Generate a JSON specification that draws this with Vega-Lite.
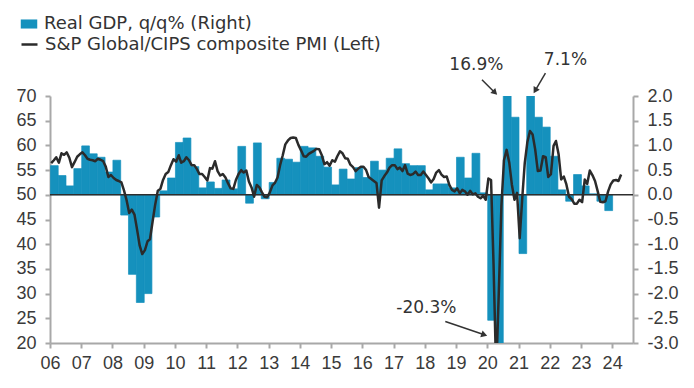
{
  "$schema": "https://vega.github.io/schema/vega-lite/v6.json",
  "width": 583,
  "height": 247,
  "autosize": {"type": "none"},
  "padding": {"left": 50, "top": 96, "right": 61, "bottom": 45},
  "background": "white",
  "config": {
    "view": {"stroke": null},
    "font": "DejaVu Sans",
    "bar": {"binSpacing": 0},
    "axis": {
      "grid": false,
      "labelFont": "Liberation Sans",
      "labelFontSize": 18,
      "labelColor": "#3a3a3a",
      "domainColor": "#a8a8a8",
      "domainWidth": 2,
      "tickColor": "#a8a8a8",
      "tickWidth": 2,
      "tickSize": 5,
      "labelOverlap": false
    },
    "axisX": {"tickCount": 19, "labelPadding": 6, "labelFlush": false},
    "axisY": {"tickCount": 11, "labelPadding": 9}
  },
  "datasets": {
    "gdp": [
      {"q": "2006-02-15", "gdp": 0.59}, {"q": "2006-05-15", "gdp": 0.39}, {"q": "2006-08-15", "gdp": 0.18}, {"q": "2006-11-15", "gdp": 0.53},
      {"q": "2007-02-15", "gdp": 0.99}, {"q": "2007-05-15", "gdp": 0.83}, {"q": "2007-08-15", "gdp": 0.76}, {"q": "2007-11-15", "gdp": 0.46},
      {"q": "2008-02-15", "gdp": 0.70}, {"q": "2008-05-15", "gdp": -0.41}, {"q": "2008-08-15", "gdp": -1.61}, {"q": "2008-11-15", "gdp": -2.18},
      {"q": "2009-02-15", "gdp": -2.0}, {"q": "2009-05-15", "gdp": -0.45}, {"q": "2009-08-15", "gdp": 0.08}, {"q": "2009-11-15", "gdp": 0.34},
      {"q": "2010-02-15", "gdp": 1.06}, {"q": "2010-05-15", "gdp": 1.15}, {"q": "2010-08-15", "gdp": 0.57}, {"q": "2010-11-15", "gdp": 0.14},
      {"q": "2011-02-15", "gdp": 0.26}, {"q": "2011-05-15", "gdp": 0.13}, {"q": "2011-08-15", "gdp": 0.30}, {"q": "2011-11-15", "gdp": 0.12},
      {"q": "2012-02-15", "gdp": 0.98}, {"q": "2012-05-15", "gdp": -0.17}, {"q": "2012-08-15", "gdp": 1.05}, {"q": "2012-11-15", "gdp": -0.08},
      {"q": "2013-02-15", "gdp": 0.25}, {"q": "2013-05-15", "gdp": 0.74}, {"q": "2013-08-15", "gdp": 0.72}, {"q": "2013-11-15", "gdp": 0.66},
      {"q": "2014-02-15", "gdp": 0.98}, {"q": "2014-05-15", "gdp": 0.95}, {"q": "2014-08-15", "gdp": 0.78}, {"q": "2014-11-15", "gdp": 0.56},
      {"q": "2015-02-15", "gdp": 0.20}, {"q": "2015-05-15", "gdp": 0.52}, {"q": "2015-08-15", "gdp": 0.32}, {"q": "2015-11-15", "gdp": 0.55},
      {"q": "2016-02-15", "gdp": 0.35}, {"q": "2016-05-15", "gdp": 0.68}, {"q": "2016-08-15", "gdp": 0.50}, {"q": "2016-11-15", "gdp": 0.74},
      {"q": "2017-02-15", "gdp": 0.93}, {"q": "2017-05-15", "gdp": 0.63}, {"q": "2017-08-15", "gdp": 0.59}, {"q": "2017-11-15", "gdp": 0.59},
      {"q": "2018-02-15", "gdp": 0.10}, {"q": "2018-05-15", "gdp": 0.22}, {"q": "2018-08-15", "gdp": 0.22}, {"q": "2018-11-15", "gdp": 0.14},
      {"q": "2019-02-15", "gdp": 0.76}, {"q": "2019-05-15", "gdp": 0.34}, {"q": "2019-08-15", "gdp": 0.84}, {"q": "2019-11-15", "gdp": 0.04},
      {"q": "2020-02-15", "gdp": -2.54}, {"q": "2020-05-15", "gdp": -20.3}, {"q": "2020-08-15", "gdp": 16.9}, {"q": "2020-11-15", "gdp": 1.57},
      {"q": "2021-02-15", "gdp": -1.19}, {"q": "2021-05-15", "gdp": 7.1}, {"q": "2021-08-15", "gdp": 1.57}, {"q": "2021-11-15", "gdp": 1.37},
      {"q": "2022-02-15", "gdp": 0.78}, {"q": "2022-05-15", "gdp": 0.10}, {"q": "2022-08-15", "gdp": -0.13}, {"q": "2022-11-15", "gdp": 0.41},
      {"q": "2023-02-15", "gdp": 0.18}, {"q": "2023-05-15", "gdp": 0.02}, {"q": "2023-08-15", "gdp": -0.13}, {"q": "2023-11-15", "gdp": -0.32}
    ],
    "pmi": [
      {"m": "2006-01-15", "pmi": 56.4}, {"m": "2006-02-15", "pmi": 57.0}, {"m": "2006-03-15", "pmi": 57.6}, {"m": "2006-04-15", "pmi": 56.5}, {"m": "2006-05-15", "pmi": 58.4}, {"m": "2006-06-15", "pmi": 58.1}, {"m": "2006-07-15", "pmi": 58.6}, {"m": "2006-08-15", "pmi": 57.5}, {"m": "2006-09-15", "pmi": 55.6}, {"m": "2006-10-15", "pmi": 56.6}, {"m": "2006-11-15", "pmi": 57.7}, {"m": "2006-12-15", "pmi": 58.2},
      {"m": "2007-01-15", "pmi": 58.6}, {"m": "2007-02-15", "pmi": 58.0}, {"m": "2007-03-15", "pmi": 57.3}, {"m": "2007-04-15", "pmi": 57.1}, {"m": "2007-05-15", "pmi": 57.0}, {"m": "2007-06-15", "pmi": 56.8}, {"m": "2007-07-15", "pmi": 57.3}, {"m": "2007-08-15", "pmi": 57.1}, {"m": "2007-09-15", "pmi": 56.8}, {"m": "2007-10-15", "pmi": 55.7}, {"m": "2007-11-15", "pmi": 53.6}, {"m": "2007-12-15", "pmi": 54.0},
      {"m": "2008-01-15", "pmi": 53.4}, {"m": "2008-02-15", "pmi": 53.0}, {"m": "2008-03-15", "pmi": 52.8}, {"m": "2008-04-15", "pmi": 52.5}, {"m": "2008-05-15", "pmi": 50.9}, {"m": "2008-06-15", "pmi": 48.9}, {"m": "2008-07-15", "pmi": 46.3}, {"m": "2008-08-15", "pmi": 47.0}, {"m": "2008-09-15", "pmi": 46.0}, {"m": "2008-10-15", "pmi": 43.0}, {"m": "2008-11-15", "pmi": 39.7}, {"m": "2008-12-15", "pmi": 38.0},
      {"m": "2009-01-15", "pmi": 38.8}, {"m": "2009-02-15", "pmi": 40.6}, {"m": "2009-03-15", "pmi": 41.0}, {"m": "2009-04-15", "pmi": 44.6}, {"m": "2009-05-15", "pmi": 48.0}, {"m": "2009-06-15", "pmi": 50.8}, {"m": "2009-07-15", "pmi": 51.2}, {"m": "2009-08-15", "pmi": 53.0}, {"m": "2009-09-15", "pmi": 54.2}, {"m": "2009-10-15", "pmi": 54.6}, {"m": "2009-11-15", "pmi": 56.0}, {"m": "2009-12-15", "pmi": 57.2},
      {"m": "2010-01-15", "pmi": 56.7}, {"m": "2010-02-15", "pmi": 58.0}, {"m": "2010-03-15", "pmi": 56.5}, {"m": "2010-04-15", "pmi": 56.8}, {"m": "2010-05-15", "pmi": 57.6}, {"m": "2010-06-15", "pmi": 57.0}, {"m": "2010-07-15", "pmi": 56.0}, {"m": "2010-08-15", "pmi": 56.0}, {"m": "2010-09-15", "pmi": 55.2}, {"m": "2010-10-15", "pmi": 54.2}, {"m": "2010-11-15", "pmi": 54.2}, {"m": "2010-12-15", "pmi": 53.6},
      {"m": "2011-01-15", "pmi": 52.9}, {"m": "2011-02-15", "pmi": 55.4}, {"m": "2011-03-15", "pmi": 55.3}, {"m": "2011-04-15", "pmi": 56.8}, {"m": "2011-05-15", "pmi": 54.8}, {"m": "2011-06-15", "pmi": 53.9}, {"m": "2011-07-15", "pmi": 54.2}, {"m": "2011-08-15", "pmi": 53.5}, {"m": "2011-09-15", "pmi": 52.3}, {"m": "2011-10-15", "pmi": 51.3}, {"m": "2011-11-15", "pmi": 51.2}, {"m": "2011-12-15", "pmi": 53.0},
      {"m": "2012-01-15", "pmi": 54.2}, {"m": "2012-02-15", "pmi": 55.0}, {"m": "2012-03-15", "pmi": 54.5}, {"m": "2012-04-15", "pmi": 54.9}, {"m": "2012-05-15", "pmi": 52.7}, {"m": "2012-06-15", "pmi": 51.5}, {"m": "2012-07-15", "pmi": 49.6}, {"m": "2012-08-15", "pmi": 52.0}, {"m": "2012-09-15", "pmi": 51.5}, {"m": "2012-10-15", "pmi": 50.5}, {"m": "2012-11-15", "pmi": 49.6}, {"m": "2012-12-15", "pmi": 49.5},
      {"m": "2013-01-15", "pmi": 50.5}, {"m": "2013-02-15", "pmi": 51.9}, {"m": "2013-03-15", "pmi": 52.4}, {"m": "2013-04-15", "pmi": 53.5}, {"m": "2013-05-15", "pmi": 56.0}, {"m": "2013-06-15", "pmi": 58.0}, {"m": "2013-07-15", "pmi": 60.2}, {"m": "2013-08-15", "pmi": 61.0}, {"m": "2013-09-15", "pmi": 61.5}, {"m": "2013-10-15", "pmi": 61.6}, {"m": "2013-11-15", "pmi": 61.5}, {"m": "2013-12-15", "pmi": 60.1},
      {"m": "2014-01-15", "pmi": 59.0}, {"m": "2014-02-15", "pmi": 57.8}, {"m": "2014-03-15", "pmi": 57.7}, {"m": "2014-04-15", "pmi": 58.3}, {"m": "2014-05-15", "pmi": 58.6}, {"m": "2014-06-15", "pmi": 58.9}, {"m": "2014-07-15", "pmi": 59.3}, {"m": "2014-08-15", "pmi": 59.2}, {"m": "2014-09-15", "pmi": 58.0}, {"m": "2014-10-15", "pmi": 56.2}, {"m": "2014-11-15", "pmi": 56.6}, {"m": "2014-12-15", "pmi": 55.9},
      {"m": "2015-01-15", "pmi": 57.0}, {"m": "2015-02-15", "pmi": 56.7}, {"m": "2015-03-15", "pmi": 57.8}, {"m": "2015-04-15", "pmi": 58.8}, {"m": "2015-05-15", "pmi": 58.4}, {"m": "2015-06-15", "pmi": 57.4}, {"m": "2015-07-15", "pmi": 57.3}, {"m": "2015-08-15", "pmi": 56.1}, {"m": "2015-09-15", "pmi": 55.6}, {"m": "2015-10-15", "pmi": 54.8}, {"m": "2015-11-15", "pmi": 55.3}, {"m": "2015-12-15", "pmi": 55.7},
      {"m": "2016-01-15", "pmi": 55.7}, {"m": "2016-02-15", "pmi": 55.0}, {"m": "2016-03-15", "pmi": 53.6}, {"m": "2016-04-15", "pmi": 53.2}, {"m": "2016-05-15", "pmi": 52.8}, {"m": "2016-06-15", "pmi": 52.4}, {"m": "2016-07-15", "pmi": 47.4}, {"m": "2016-08-15", "pmi": 52.9}, {"m": "2016-09-15", "pmi": 53.8}, {"m": "2016-10-15", "pmi": 54.5}, {"m": "2016-11-15", "pmi": 55.5}, {"m": "2016-12-15", "pmi": 56.0},
      {"m": "2017-01-15", "pmi": 56.0}, {"m": "2017-02-15", "pmi": 55.2}, {"m": "2017-03-15", "pmi": 55.5}, {"m": "2017-04-15", "pmi": 54.8}, {"m": "2017-05-15", "pmi": 56.0}, {"m": "2017-06-15", "pmi": 54.3}, {"m": "2017-07-15", "pmi": 54.0}, {"m": "2017-08-15", "pmi": 54.2}, {"m": "2017-09-15", "pmi": 54.7}, {"m": "2017-10-15", "pmi": 54.0}, {"m": "2017-11-15", "pmi": 54.0}, {"m": "2017-12-15", "pmi": 54.7},
      {"m": "2018-01-15", "pmi": 54.0}, {"m": "2018-02-15", "pmi": 53.3}, {"m": "2018-03-15", "pmi": 52.5}, {"m": "2018-04-15", "pmi": 53.2}, {"m": "2018-05-15", "pmi": 54.5}, {"m": "2018-06-15", "pmi": 55.0}, {"m": "2018-07-15", "pmi": 54.1}, {"m": "2018-08-15", "pmi": 53.6}, {"m": "2018-09-15", "pmi": 53.7}, {"m": "2018-10-15", "pmi": 52.0}, {"m": "2018-11-15", "pmi": 51.0}, {"m": "2018-12-15", "pmi": 50.7},
      {"m": "2019-01-15", "pmi": 51.3}, {"m": "2019-02-15", "pmi": 50.3}, {"m": "2019-03-15", "pmi": 51.0}, {"m": "2019-04-15", "pmi": 50.7}, {"m": "2019-05-15", "pmi": 50.0}, {"m": "2019-06-15", "pmi": 50.8}, {"m": "2019-07-15", "pmi": 50.1}, {"m": "2019-08-15", "pmi": 50.3}, {"m": "2019-09-15", "pmi": 49.6}, {"m": "2019-10-15", "pmi": 49.3}, {"m": "2019-11-15", "pmi": 49.8}, {"m": "2019-12-15", "pmi": 49.0},
      {"m": "2020-01-15", "pmi": 53.3}, {"m": "2020-02-15", "pmi": 53.0}, {"m": "2020-03-15", "pmi": 36.0}, {"m": "2020-04-15", "pmi": 13.8}, {"m": "2020-05-15", "pmi": 30.0}, {"m": "2020-06-15", "pmi": 47.7}, {"m": "2020-07-15", "pmi": 57.0}, {"m": "2020-08-15", "pmi": 59.1}, {"m": "2020-09-15", "pmi": 56.5}, {"m": "2020-10-15", "pmi": 52.1}, {"m": "2020-11-15", "pmi": 49.0}, {"m": "2020-12-15", "pmi": 50.4},
      {"m": "2021-01-15", "pmi": 41.2}, {"m": "2021-02-15", "pmi": 49.6}, {"m": "2021-03-15", "pmi": 56.4}, {"m": "2021-04-15", "pmi": 60.7}, {"m": "2021-05-15", "pmi": 62.9}, {"m": "2021-06-15", "pmi": 62.2}, {"m": "2021-07-15", "pmi": 59.2}, {"m": "2021-08-15", "pmi": 54.8}, {"m": "2021-09-15", "pmi": 54.9}, {"m": "2021-10-15", "pmi": 57.8}, {"m": "2021-11-15", "pmi": 57.6}, {"m": "2021-12-15", "pmi": 53.6},
      {"m": "2022-01-15", "pmi": 54.2}, {"m": "2022-02-15", "pmi": 59.9}, {"m": "2022-03-15", "pmi": 60.9}, {"m": "2022-04-15", "pmi": 58.2}, {"m": "2022-05-15", "pmi": 53.1}, {"m": "2022-06-15", "pmi": 53.7}, {"m": "2022-07-15", "pmi": 52.1}, {"m": "2022-08-15", "pmi": 49.6}, {"m": "2022-09-15", "pmi": 49.1}, {"m": "2022-10-15", "pmi": 48.2}, {"m": "2022-11-15", "pmi": 48.2}, {"m": "2022-12-15", "pmi": 49.0},
      {"m": "2023-01-15", "pmi": 48.5}, {"m": "2023-02-15", "pmi": 53.1}, {"m": "2023-03-15", "pmi": 52.2}, {"m": "2023-04-15", "pmi": 54.9}, {"m": "2023-05-15", "pmi": 54.0}, {"m": "2023-06-15", "pmi": 52.8}, {"m": "2023-07-15", "pmi": 50.8}, {"m": "2023-08-15", "pmi": 48.6}, {"m": "2023-09-15", "pmi": 48.5}, {"m": "2023-10-15", "pmi": 48.7}, {"m": "2023-11-15", "pmi": 50.7}, {"m": "2023-12-15", "pmi": 52.1},
      {"m": "2024-01-15", "pmi": 52.9}, {"m": "2024-02-15", "pmi": 53.0}, {"m": "2024-03-15", "pmi": 52.8}, {"m": "2024-04-15", "pmi": 54.1}
    ]
  },
  "layer": [
    {
      "layer": [
        {
          "data": {"name": "gdp"},
          "mark": {"type": "bar", "clip": true, "binSpacing": 0, "stroke": "#1591bd", "strokeWidth": 0.7},
          "encoding": {
            "x": {
              "field": "q", "timeUnit": "yearquarter", "type": "temporal",
              "scale": {"domain": [{"year": 2006, "month": 1, "date": 1}, {"year": 2024, "month": 9, "date": 1}], "nice": false},
              "axis": {"title": null, "format": "%y", "labelOverlap": false, "labelFlush": false}
            },
            "y": {
              "field": "gdp", "type": "quantitative",
              "scale": {"domain": [-3, 2], "nice": false, "zero": false},
              "axis": {
                "orient": "right", "title": null, "labelOverlap": false,
                "labelExpr": "(datum.value < 0 ? '-' : '') + format(abs(datum.value), '.1f')"
              }
            },
            "fill": {
              "datum": "Real GDP, q/q% (Right)", "type": "nominal",
              "scale": {"range": ["#1591bd"]},
              "legend": {
                "orient": "none", "legendX": -30, "legendY": -81, "title": null, "padding": 0,
                "symbolType": "M-1,-0.55H1V0.55H-1Z", "symbolSize": 272, "symbolStrokeWidth": 0,
                "labelFont": "DejaVu Sans", "labelFontSize": 18, "labelColor": "#333333", "labelOffset": 6, "labelLimit": 500
              }
            }
          }
        },
        {
          "data": {"values": [{}]},
          "mark": {"type": "rule", "color": "#2e2e2e", "strokeWidth": 1.5},
          "encoding": {"y": {"datum": 0}}
        },
        {
          "data": {"values": [{}]},
          "mark": {"type": "text", "fontSize": 17, "color": "#333333", "font": "DejaVu Sans"},
          "encoding": {
            "x": {"datum": {"year": 2019, "month": 8, "date": 27}, "type": "temporal"},
            "y": {"datum": 2.63},
            "text": {"value": "16.9%"}
          }
        },
        {
          "data": {"values": [{}]},
          "mark": {"type": "text", "fontSize": 17, "color": "#333333", "font": "DejaVu Sans"},
          "encoding": {
            "x": {"datum": {"year": 2022, "month": 7, "date": 4}, "type": "temporal"},
            "y": {"datum": 2.73},
            "text": {"value": "7.1%"}
          }
        },
        {
          "data": {"values": [{}]},
          "mark": {"type": "text", "fontSize": 17, "color": "#333333", "font": "DejaVu Sans"},
          "encoding": {
            "x": {"datum": {"year": 2018, "month": 1, "date": 19}, "type": "temporal"},
            "y": {"datum": -2.29},
            "text": {"value": "-20.3%"}
          }
        },
        {
          "data": {"values": [{}]},
          "mark": {"type": "rule", "color": "#333333", "strokeWidth": 1.5},
          "encoding": {
            "x": {"datum": {"year": 2019, "month": 11, "date": 1}, "type": "temporal"},
            "x2": {"datum": {"year": 2020, "month": 4, "date": 1}},
            "y": {"datum": 2.33},
            "y2": {"datum": 2.067}
          }
        },
        {
          "data": {"values": [{}]},
          "mark": {"type": "point", "shape": "triangle-up", "filled": true, "opacity": 1, "color": "#333333", "size": 50, "angle": 135},
          "encoding": {
            "x": {"datum": {"year": 2020, "month": 4, "date": 1}, "type": "temporal"},
            "y": {"datum": 2.067}
          }
        },
        {
          "data": {"values": [{}]},
          "mark": {"type": "rule", "color": "#333333", "strokeWidth": 1.5},
          "encoding": {
            "x": {"datum": {"year": 2021, "month": 11, "date": 12}, "type": "temporal"},
            "x2": {"datum": {"year": 2021, "month": 7, "date": 15}},
            "y": {"datum": 2.464},
            "y2": {"datum": 2.111}
          }
        },
        {
          "data": {"values": [{}]},
          "mark": {"type": "point", "shape": "triangle-up", "filled": true, "opacity": 1, "color": "#333333", "size": 50, "angle": 210},
          "encoding": {
            "x": {"datum": {"year": 2021, "month": 7, "date": 15}, "type": "temporal"},
            "y": {"datum": 2.111}
          }
        },
        {
          "data": {"values": [{}]},
          "mark": {"type": "rule", "color": "#333333", "strokeWidth": 1.5},
          "encoding": {
            "x": {"datum": {"year": 2018, "month": 8, "date": 29}, "type": "temporal"},
            "x2": {"datum": {"year": 2019, "month": 11, "date": 28}},
            "y": {"datum": -2.565},
            "y2": {"datum": -2.834}
          }
        },
        {
          "data": {"values": [{}]},
          "mark": {"type": "point", "shape": "triangle-up", "filled": true, "opacity": 1, "color": "#333333", "size": 50, "angle": 109},
          "encoding": {
            "x": {"datum": {"year": 2019, "month": 11, "date": 28}, "type": "temporal"},
            "y": {"datum": -2.834}
          }
        }
      ]
    },
    {
      "layer": [
        {
          "data": {"name": "pmi"},
          "mark": {"type": "line", "clip": true, "strokeWidth": 2.5, "strokeJoin": "round"},
          "encoding": {
            "x": {
              "field": "m", "type": "temporal",
              "scale": {"domain": [{"year": 2006, "month": 1, "date": 1}, {"year": 2024, "month": 9, "date": 1}], "nice": false},
              "axis": {"title": null, "format": "%y", "labelOverlap": false, "labelFlush": false}
            },
            "y": {
              "field": "pmi", "type": "quantitative",
              "scale": {"domain": [20, 70], "nice": false, "zero": false},
              "axis": {"orient": "left", "title": null, "labelOverlap": false}
            },
            "stroke": {
              "datum": "S&P Global/CIPS composite PMI (Left)", "type": "nominal",
              "scale": {"range": ["#2b2b2b"]},
              "legend": {
                "orient": "none", "legendX": -30, "legendY": -61, "title": null, "padding": 0,
                "symbolType": "stroke", "symbolSize": 256, "symbolStrokeWidth": 2.5,
                "labelFont": "DejaVu Sans", "labelFontSize": 18, "labelColor": "#333333", "labelOffset": 6, "labelLimit": 500
              }
            }
          }
        }
      ]
    }
  ],
  "resolve": {"scale": {"y": "independent"}, "axis": {"y": "independent"}}
}
